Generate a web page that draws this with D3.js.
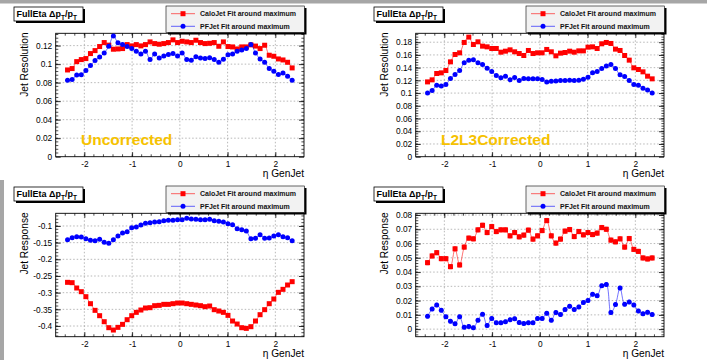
<!DOCTYPE html>
<html><head><meta charset="utf-8">
<script src="https://cdn.jsdelivr.net/npm/d3@7"></script>
<style>
body{margin:0;background:#fff}
svg{display:block}
text{font-family:"Liberation Sans",Arial,Helvetica,sans-serif}
</style>
</head><body>
<svg id="c" width="720" height="360"></svg>
<script>
// eta bin centres (GenJet eta)
const eta = [-2.352,-2.256,-2.16,-2.064,-1.968,-1.872,-1.776,-1.68,-1.584,-1.488,-1.392,-1.296,-1.2,-1.104,-1.008,-0.912,-0.816,-0.72,-0.624,-0.528,-0.432,-0.336,-0.24,-0.144,-0.048,0.048,0.144,0.24,0.336,0.432,0.528,0.624,0.72,0.816,0.912,1.008,1.104,1.2,1.296,1.392,1.488,1.584,1.68,1.776,1.872,1.968,2.064,2.16,2.256,2.352];

// Jet resolution, uncorrected
const resUncorrCalo = [0.0937,0.0952,0.1027,0.1049,0.106,0.1114,0.1146,0.119,0.1233,0.1205,0.1161,0.1164,0.1168,0.1211,0.1197,0.1211,0.1197,0.1211,0.124,0.1222,0.1215,0.1222,0.1233,0.1262,0.1233,0.1247,0.124,0.1233,0.1258,0.1233,0.1222,0.1225,0.1233,0.1193,0.124,0.119,0.1186,0.1164,0.1186,0.1186,0.1208,0.1195,0.1168,0.1204,0.1096,0.1085,0.1056,0.1045,0.102,0.0959];
const resUncorrPF = [0.0826,0.0833,0.0883,0.0886,0.093,0.0984,0.1038,0.1078,0.1121,0.1193,0.1305,0.123,0.1211,0.119,0.1168,0.1139,0.111,0.1139,0.1049,0.111,0.1067,0.1089,0.1103,0.1114,0.1089,0.1121,0.1049,0.1041,0.1081,0.1067,0.106,0.107,0.105,0.102,0.1053,0.11,0.111,0.114,0.1153,0.1168,0.1211,0.1121,0.1056,0.102,0.0952,0.0923,0.0887,0.0905,0.0869,0.0826];

// Jet resolution, L2L3 corrected
const resCorrCalo = [0.1176,0.1208,0.1308,0.1318,0.1355,0.1491,0.1607,0.1633,0.1796,0.188,0.1764,0.1806,0.1738,0.1727,0.1701,0.1701,0.1643,0.1659,0.168,0.1649,0.1622,0.1591,0.167,0.1622,0.1633,0.1633,0.1686,0.1649,0.1586,0.1628,0.1638,0.1659,0.1643,0.1664,0.1664,0.1722,0.1727,0.1701,0.1775,0.1796,0.178,0.1691,0.167,0.1591,0.1518,0.1397,0.1371,0.1334,0.1266,0.1224];
const resCorrPF = [0.1003,0.104,0.1124,0.1113,0.1134,0.1229,0.1292,0.1355,0.1476,0.1518,0.1523,0.1476,0.145,0.1392,0.134,0.1276,0.124,0.1266,0.1208,0.1245,0.1197,0.1229,0.1224,0.1224,0.1224,0.1213,0.1176,0.1187,0.1192,0.1197,0.1197,0.1203,0.1197,0.1203,0.1218,0.125,0.1318,0.134,0.1387,0.1424,0.145,0.1387,0.1287,0.1261,0.1197,0.1134,0.1124,0.1077,0.105,0.1003];

// Jet response, uncorrected
const respUncorrCalo = [-0.269,-0.27,-0.286,-0.297,-0.312,-0.333,-0.353,-0.369,-0.387,-0.405,-0.412,-0.404,-0.395,-0.381,-0.369,-0.359,-0.352,-0.346,-0.345,-0.339,-0.338,-0.335,-0.335,-0.333,-0.331,-0.331,-0.333,-0.335,-0.337,-0.339,-0.342,-0.34,-0.351,-0.355,-0.359,-0.368,-0.385,-0.394,-0.405,-0.407,-0.402,-0.385,-0.366,-0.351,-0.333,-0.319,-0.299,-0.29,-0.277,-0.267];
const respUncorrPF = [-0.141,-0.135,-0.132,-0.133,-0.138,-0.143,-0.144,-0.14,-0.149,-0.152,-0.141,-0.13,-0.121,-0.117,-0.105,-0.103,-0.097,-0.092,-0.09,-0.088,-0.087,-0.084,-0.083,-0.083,-0.081,-0.081,-0.077,-0.079,-0.08,-0.081,-0.081,-0.08,-0.084,-0.086,-0.088,-0.093,-0.096,-0.108,-0.111,-0.115,-0.138,-0.137,-0.126,-0.137,-0.136,-0.13,-0.126,-0.132,-0.135,-0.144];

// Jet response, L2L3 corrected
const respCorrCalo = [0.0466,0.0513,0.0536,0.0494,0.0494,0.0438,0.0563,0.045,0.0575,0.0638,0.0633,0.0696,0.0728,0.0677,0.0719,0.0684,0.0696,0.0696,0.0654,0.0677,0.0647,0.0659,0.0694,0.0631,0.0654,0.0691,0.0761,0.0654,0.0603,0.0631,0.0687,0.0698,0.0649,0.0684,0.0661,0.0677,0.0663,0.0673,0.0712,0.07,0.0624,0.0612,0.0633,0.0575,0.0635,0.0559,0.0545,0.0499,0.0492,0.0499];
const respCorrPF = [0.009,0.0141,0.0169,0.0132,0.0086,0.0056,0.0037,0.0086,0.0014,0.0019,0.0009,0.0063,0.0104,0.0026,0.0074,0.0044,0.0044,0.0051,0.0065,0.0072,0.0046,0.0039,0.0044,0.0044,0.0074,0.0074,0.0111,0.0063,0.0116,0.0102,0.0137,0.016,0.0137,0.0156,0.0186,0.02,0.0244,0.0234,0.0304,0.0313,0.0116,0.0172,0.0288,0.0174,0.019,0.0169,0.0127,0.0107,0.0118,0.0102];
// statistical error (Calo, PF) on corrected response
const respCorrErr = [0.0015, 0.0012];

// tick values / labels
const xTicks = [-2,-1,0,1,2];
const xTickLabels = ["-2","-1","0","1","2"];
const resUncorrTicks = [0,0.02,0.04,0.06,0.08,0.1,0.12];
const resUncorrLabels = ["0","0.02","0.04","0.06","0.08","0.1","0.12"];
const resCorrTicks = [0,0.02,0.04,0.06,0.08,0.1,0.12,0.14,0.16,0.18];
const resCorrLabels = ["0","0.02","0.04","0.06","0.08","0.1","0.12","0.14","0.16","0.18"];
const respUncorrTicks = [-0.4,-0.35,-0.3,-0.25,-0.2,-0.15,-0.1];
const respUncorrLabels = ["-0.4","-0.35","-0.3","-0.25","-0.2","-0.15","-0.1"];
const respCorrTicks = [0,0.01,0.02,0.03,0.04,0.05,0.06,0.07,0.08];
const respCorrLabels = ["0","0.01","0.02","0.03","0.04","0.05","0.06","0.07","0.08"];

const seriesNames = ["CaloJet Fit around maximum","PFJet Fit around maximum"];
const colors = ["#ff0000","#0000ff"];

const panels = [
  {ox:0,oy:0,calo:resUncorrCalo,pf:resUncorrPF,dom:[0,0.1333],ticks:resUncorrTicks,labels:resUncorrLabels,minor:0.004,ytitle:"Jet Resolution",tag:"Uncorrected",err:null},
  {ox:360,oy:0,calo:resCorrCalo,pf:resCorrPF,dom:[0,0.194],ticks:resCorrTicks,labels:resCorrLabels,minor:0.004,ytitle:"Jet Resolution",tag:"L2L3Corrected",err:null},
  {ox:0,oy:180,calo:respUncorrCalo,pf:respUncorrPF,dom:[-0.432,-0.062],ticks:respUncorrTicks,labels:respUncorrLabels,minor:0.01,ytitle:"Jet Response",tag:null,err:null},
  {ox:360,oy:180,calo:respCorrCalo,pf:respCorrPF,dom:[-0.0053,0.0812],ticks:respCorrTicks,labels:respCorrLabels,minor:0.002,ytitle:"Jet Response",tag:null,err:respCorrErr}
];

const svg = d3.select("#c");
svg.append("rect").attr("x",0).attr("y",0).attr("width",720).attr("height",360).attr("fill","#fff");
// canvas frame bits
svg.append("rect").attr("x",0).attr("y",0).attr("width",707).attr("height",3.5).attr("fill","#a6a6a6");
svg.append("rect").attr("x",0).attr("y",180).attr("width",4).attr("height",180).attr("fill","#a6a6a6");

const L=55.7, R=304, T=33.3, B=156.7;

panels.forEach(p=>{
  const g = svg.append("g").attr("transform",`translate(${p.ox},${p.oy})`);
  const x = d3.scaleLinear().domain([-2.6,2.6]).range([L,R]);
  const y = d3.scaleLinear().domain(p.dom).range([B,T]);

  // grid
  const grid = g.append("g").attr("stroke","#9a9a9a").attr("stroke-width",0.7).attr("stroke-dasharray","1.5,2");
  xTicks.forEach(t=>grid.append("line").attr("x1",x(t)).attr("x2",x(t)).attr("y1",T).attr("y2",B));
  p.ticks.forEach(t=>{ if (y(t)<B-0.5 && y(t)>T+0.5) grid.append("line").attr("x1",L).attr("x2",R).attr("y1",y(t)).attr("y2",y(t)); });

  // axes (ticks inward, on all sides)
  const xb = d3.axisBottom(x).tickValues(xTicks).tickFormat((d,i)=>xTickLabels[i]).tickSizeInner(-4.5).tickSizeOuter(0).tickPadding(4);
  const xt = d3.axisTop(x).tickValues(xTicks).tickFormat("").tickSizeInner(-4.5).tickSizeOuter(0);
  const yl = d3.axisLeft(y).tickValues(p.ticks).tickFormat((d,i)=>p.labels[i]).tickSizeInner(-5).tickSizeOuter(0).tickPadding(3.5);
  const yr = d3.axisRight(y).tickValues(p.ticks).tickFormat("").tickSizeInner(-5).tickSizeOuter(0);
  const axStyle = sel=>{ sel.select(".domain").remove(); sel.selectAll("line").attr("stroke","#000").attr("stroke-width",0.8); sel.selectAll("text").attr("font-size",8.3).attr("fill","#000").attr("font-family",null); };
  g.append("g").attr("transform",`translate(0,${B})`).call(xb).call(axStyle);
  g.append("g").attr("transform",`translate(0,${T})`).call(xt).call(axStyle);
  g.append("g").attr("transform",`translate(${L},0)`).call(yl).call(axStyle);
  g.append("g").attr("transform",`translate(${R},0)`).call(yr).call(axStyle);

  // minor ticks
  const mg = g.append("g").attr("stroke","#000").attr("stroke-width",0.7);
  d3.range(-2.6,2.6001,0.2).forEach(t=>{
    const px=x(t); if(px<L+0.5||px>R-0.5) return;
    mg.append("line").attr("x1",px).attr("x2",px).attr("y1",B).attr("y2",B-2.4);
    mg.append("line").attr("x1",px).attr("x2",px).attr("y1",T).attr("y2",T+2.4);
  });
  const m0 = Math.ceil(p.dom[0]/p.minor)*p.minor;
  d3.range(m0,p.dom[1],p.minor).forEach(t=>{
    const py=y(t); if(py>B-0.5||py<T+0.5) return;
    mg.append("line").attr("x1",L).attr("x2",L+2.6).attr("y1",py).attr("y2",py);
    mg.append("line").attr("x1",R).attr("x2",R-2.6).attr("y1",py).attr("y2",py);
  });

  // frame
  g.append("rect").attr("x",L).attr("y",T).attr("width",R-L).attr("height",B-T).attr("fill","none").attr("stroke","#000").attr("stroke-width",0.9);

  // axis titles
  g.append("text").attr("transform",`translate(27.5,${T-1}) rotate(-90)`).attr("text-anchor","end").attr("font-size",10.2).text(p.ytitle);
  g.append("text").attr("x",R).attr("y",177).attr("text-anchor","end").attr("font-size",10.2).text("η GenJet");

  // series
  const line = d3.line().x((d,i)=>x(eta[i])).y(d=>y(d)).curve(d3.curveCatmullRom);
  [p.calo,p.pf].forEach((vals,si)=>{
    const sg = g.append("g");
    sg.append("path").attr("d",line(vals)).attr("fill","none").attr("stroke",colors[si]).attr("stroke-width",1).attr("stroke-opacity",0.55);
    if (p.err){
      const e=p.err[si];
      vals.forEach((v,i)=>{
        const cx=x(eta[i]);
        sg.append("line").attr("x1",cx).attr("x2",cx).attr("y1",y(v-e)).attr("y2",y(v+e)).attr("stroke",colors[si]).attr("stroke-width",0.9).attr("stroke-opacity",0.7);
        [v-e,v+e].forEach(w=>sg.append("line").attr("x1",cx-1.4).attr("x2",cx+1.4).attr("y1",y(w)).attr("y2",y(w)).attr("stroke",colors[si]).attr("stroke-width",0.8).attr("stroke-opacity",0.7));
      });
    }
    if (si===0){
      sg.selectAll("rect.m").data(vals).join("rect").attr("x",(d,i)=>x(eta[i])-2.5).attr("y",d=>y(d)-2.5).attr("width",5).attr("height",5).attr("fill",colors[0]);
    } else {
      sg.selectAll("circle").data(vals).join("circle").attr("cx",(d,i)=>x(eta[i])).attr("cy",d=>y(d)).attr("r",2.5).attr("fill",colors[1]);
    }
  });

  // tag text
  if (p.tag) g.append("text").attr("x",81).attr("y",144.5).attr("font-size",15.5).attr("font-weight","bold").attr("fill","#f6c200").text(p.tag);

  // title box
  g.append("rect").attr("x",16).attr("y",9).attr("width",69).attr("height",14).attr("fill","#000");
  g.append("rect").attr("x",14).attr("y",7).attr("width",69).attr("height",14).attr("fill","#fff").attr("stroke","#000").attr("stroke-width",0.8);
  const tt = g.append("text").attr("x",16.5).attr("y",17).attr("font-size",9).attr("font-weight","bold");
  tt.append("tspan").text("FullEta Δp");
  tt.append("tspan").attr("font-size",6.5).attr("dy",2.5).text("T");
  tt.append("tspan").attr("dy",-2.5).text("/p");
  tt.append("tspan").attr("font-size",6.5).attr("dy",2.5).text("T");

  // legend
  g.append("rect").attr("x",168).attr("y",8).attr("width",138.5).attr("height",26.5).attr("fill","#000");
  g.append("rect").attr("x",166).attr("y",6).attr("width",138.5).attr("height",26.5).attr("fill","#f2f2f2").attr("stroke","#000").attr("stroke-width",0.6);
  seriesNames.forEach((nm,si)=>{
    const ly = 13.7 + si*12.6;
    g.append("line").attr("x1",171).attr("x2",195).attr("y1",ly).attr("y2",ly).attr("stroke",colors[si]).attr("stroke-width",1).attr("stroke-opacity",0.6);
    if (si===0) g.append("rect").attr("x",180.5).attr("y",ly-2.5).attr("width",5).attr("height",5).attr("fill",colors[0]);
    else g.append("circle").attr("cx",183).attr("cy",ly).attr("r",2.5).attr("fill",colors[1]);
    g.append("text").attr("x",200).attr("y",ly+2.5).attr("font-size",7).attr("font-weight","bold").attr("fill","#111").text(nm);
  });
});
</script>
</body></html>
